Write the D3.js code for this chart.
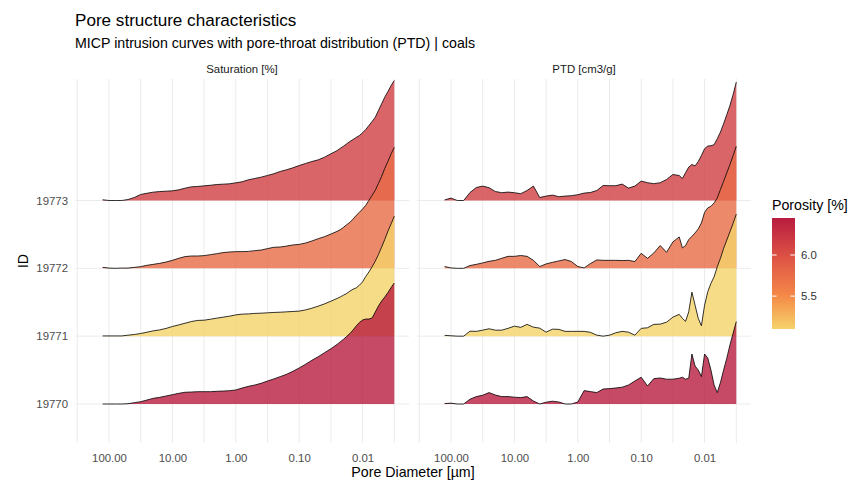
<!DOCTYPE html>
<html>
<head>
<meta charset="utf-8">
<script src="https://cdn.jsdelivr.net/npm/d3@7"></script>
<style>
  body { margin: 0; background: #fff; }
  text { font-family: "Liberation Sans", Arial, sans-serif; }
</style>
</head>
<body>
<div class="chart"></div>
<script>
// ---- data ----
const ids = ["19770", "19771", "19772", "19773"];
const porosity = [6.45, 5.10, 5.76, 6.15];   // %

// pore diameter, µm
const diameter = [125.9, 100, 79.43, 63.10, 50.12, 39.81, 31.62, 25.12, 19.95, 15.85,
  12.59, 10.00, 7.943, 6.310, 5.012, 3.981, 3.162, 2.512, 1.995, 1.585,
  1.259, 1.000, 0.7943, 0.6310, 0.5012, 0.3981, 0.3162, 0.2512, 0.1995, 0.1585,
  0.1259, 0.1000, 0.07943, 0.06310, 0.05012, 0.03981, 0.03162, 0.02512, 0.02239, 0.01995,
  0.01778, 0.01585, 0.01413, 0.01259, 0.01122, 0.01000, 0.008913, 0.007943, 0.007079, 0.006310,
  0.005623, 0.005012, 0.004467, 0.003981, 0.003548, 0.003162];

// saturation [%]
const sat19770 = [0, 0, 0, 0, 0.2, 1.1, 1.9, 3.3, 4.7, 5.5, 6.6, 7.7, 8.8, 9.7, 9.9, 10.2, 10.2, 10.2, 10.5, 10.7,
  11.0, 11.6, 13.2, 14.6, 15.7, 17.1, 19.0, 20.7, 22.6, 24.5, 27.0, 29.8, 32.8, 36.1, 39.1, 42.4, 45.7, 49.3, 51.5, 53.5,
  55.9, 58.3, 61.2, 64.5, 67.4, 69.4, 70.2, 70.2, 71.1, 76.0, 81.0, 85.1, 88.4, 92.1, 96.3, 100];
const sat19771 = [0.2, 0.2, 0.2, 0.2, 0.8, 1.4, 2.2, 3.3, 4.4, 5.2, 6.4, 8.0, 9.3, 10.7, 12.1, 13.0, 13.2, 14.0, 14.9, 15.7,
  16.5, 17.6, 18.2, 18.4, 18.8, 19.0, 19.3, 19.6, 19.8, 20.1, 20.4, 20.7, 21.7, 23.1, 24.8, 26.7, 28.9, 31.2, 32.5, 33.9,
  35.3, 37.2, 38.8, 39.9, 42.1, 44.9, 49.3, 53.1, 57.3, 62.0, 67.5, 73.6, 79.9, 86.8, 92.8, 99.2];
const sat19772 = [0.8, 0.2, 0, 0.2, 0.2, 0.8, 1.4, 2.5, 3.3, 4.1, 5.2, 6.6, 8.3, 9.7, 10.2, 10.2, 10.5, 11.3, 12.1, 13.0,
  13.5, 13.8, 13.8, 14.0, 14.6, 15.1, 16.3, 17.4, 17.6, 18.4, 19.3, 19.8, 20.9, 22.6, 24.5, 26.2, 28.3, 30.6, 32.0, 33.9,
  36.1, 38.0, 40.7, 43.8, 46.3, 49.0, 52.1, 56.2, 60.3, 64.5, 70.2, 76.0, 82.6, 88.4, 94.6, 100];
const sat19773 = [0.6, 0, 0, 0, 0.8, 2.5, 5.0, 6.0, 6.9, 7.4, 7.7, 8.0, 8.8, 10.2, 11.3, 11.6, 12.1, 12.6, 13.2, 13.5,
  13.8, 14.6, 15.5, 17.1, 18.2, 19.3, 20.7, 22.1, 24.0, 25.4, 27.0, 28.9, 30.6, 32.2, 33.6, 35.8, 38.6, 41.3, 43.2, 44.9,
  46.9, 48.8, 50.4, 52.1, 53.7, 56.0, 58.7, 62.0, 65.3, 68.8, 74.4, 79.9, 85.4, 90.1, 95.0, 99.2];

// pore-throat distribution [10^-3 cm3/g]
const ptd19770 = [0.2, 0.4, 0, 0, 2.4, 3.7, 4.4, 5.7, 4.5, 3.7, 3.7, 3.4, 3.2, 3.7, 1.5, 0, 0.9, 1.4, 1.0, 0,
  0, 1.0, 6.7, 6.2, 5.7, 7.5, 7.7, 8.0, 8.4, 9.5, 11.5, 13.4, 9.0, 12.7, 13.0, 12.4, 12.4, 12.9, 13.4, 12.4,
  12.9, 25.0, 19.0, 17.0, 13.7, 25.0, 23.0, 17.0, 9.5, 5.7, 10.7, 17.0, 22.9, 29.5, 35.4, 41.2];
const ptd19771 = [0.4, 0.2, 0, 0, 2.5, 2.4, 3.0, 3.7, 3.0, 3.0, 3.9, 5.0, 4.4, 5.9, 4.5, 4.0, 2.0, 3.5, 3.4, 2.4,
  2.4, 2.4, 2.4, 1.9, 0.5, 0, 0.5, 1.7, 2.4, 2.0, 0.5, 3.9, 4.2, 5.9, 6.0, 7.0, 9.5, 10.9, 8.9, 7.4,
  12.2, 22.0, 15.5, 8.9, 5.2, 15.5, 22.2, 26.4, 29.7, 34.7, 38.9, 43.9, 48.0, 52.2, 56.4, 61.0];
const ptd19772 = [0.9, 0.2, 0, 0, 1.4, 2.0, 2.7, 3.5, 4.0, 5.0, 6.0, 6.0, 6.4, 6.0, 4.0, 0.9, 2.2, 3.0, 3.7, 4.4,
  3.4, 0.9, 0.2, 2.4, 4.2, 4.0, 4.0, 4.0, 3.9, 4.0, 3.4, 7.5, 5.0, 7.7, 11.4, 8.0, 13.2, 15.7, 10.2, 11.4,
  14.4, 16.0, 17.7, 19.7, 22.7, 28.0, 30.2, 31.0, 32.7, 35.2, 39.4, 43.5, 47.7, 51.9, 56.4, 61.0];
const ptd19773 = [0.3, 1.2, 0, 0, 4.0, 6.5, 7.2, 6.4, 4.5, 3.9, 4.2, 3.9, 3.4, 5.0, 7.2, 1.5, 2.2, 2.7, 1.9, 2.2,
  2.4, 2.9, 3.7, 4.0, 5.0, 7.5, 7.4, 7.4, 8.2, 6.2, 7.2, 9.7, 8.9, 8.4, 8.9, 10.5, 13.0, 12.5, 11.0, 13.9,
  16.7, 18.0, 17.3, 19.5, 22.5, 25.9, 27.2, 27.4, 27.9, 30.9, 34.2, 38.4, 42.9, 47.5, 53.0, 59.2];

const majorTicks = [100, 10, 1, 0.1, 0.01];
const gridTicks = [316.2, 100, 31.62, 10, 3.162, 1, 0.3162, 0.1, 0.03162, 0.01, 0.003162];
const porosityTicks = [5.5, 6.0];
const facets = ["Saturation [%]", "PTD [cm3/g]"];

const satSeries = [sat19770, sat19771, sat19772, sat19773];
const ptdSeries = [ptd19770, ptd19771, ptd19772, ptd19773];

// ---- layout ----
const W = 858, H = 483;
const panelTop = 79, panelBottom = 443;
const panels = [{x0: 75, x1: 409}, {x0: 417, x1: 751}];
const smallFont = "11.4px", bigFont = "14.2px";

const svg = d3.select(".chart").append("svg")
  .attr("width", W)
  .attr("height", H);

const y = d3.scalePoint()
  .domain(ids)
  .range([404, 200.5]);

const hScales = [
  d3.scaleLinear().domain([0, 100]).range([0, 121]),
  d3.scaleLinear().domain([0, d3.max(ptdSeries.flat())]).range([0, 122])
];

const color = d3.scaleLinear()
  .domain([5.1, 5.5, 6.0, 6.45])
  .range(["#F5D36A", "#F58A48", "#DC4F45", "#B81C3F"]);

// titles
svg.append("text")
  .attr("x", 75).attr("y", 26)
  .style("font-size", "17.1px").attr("fill", "#000")
  .text("Pore structure characteristics");
svg.append("text")
  .attr("x", 75).attr("y", 48)
  .style("font-size", bigFont).attr("fill", "#000")
  .text("MICP intrusion curves with pore-throat distribution (PTD) | coals");

panels.forEach((p, pi) => {
  const x = d3.scaleLog()
    .domain([Math.pow(10, 2.536), Math.pow(10, -2.732)])
    .range([p.x0, p.x1]);
  const g = svg.append("g");

  // grid
  g.selectAll(".vgrid")
    .data(gridTicks)
    .enter().append("line")
    .attr("x1", d => x(d)).attr("x2", d => x(d))
    .attr("y1", panelTop).attr("y2", panelBottom)
    .attr("stroke", "#EBEBEB").attr("stroke-width", 1);
  g.selectAll(".hgrid")
    .data(ids)
    .enter().append("line")
    .attr("x1", p.x0).attr("x2", p.x1)
    .attr("y1", d => y(d)).attr("y2", d => y(d))
    .attr("stroke", "#EBEBEB").attr("stroke-width", 1);

  // strip label
  g.append("text")
    .attr("x", (p.x0 + p.x1) / 2).attr("y", 72.5)
    .attr("text-anchor", "middle")
    .style("font-size", smallFont).attr("fill", "#1A1A1A")
    .text(facets[pi]);

  // ridges, top row first so lower rows sit on top
  const series = pi === 0 ? satSeries : ptdSeries;
  const hs = hScales[pi];
  for (let k = ids.length - 1; k >= 0; k--) {
    const base = y(ids[k]);
    const pts = diameter.map((d, i) => ({d: d, v: series[k][i]}));
    const area = d3.area()
      .x(d => x(d.d))
      .y0(base)
      .y1(d => base - hs(d.v));
    const line = d3.line()
      .x(d => x(d.d))
      .y(d => base - hs(d.v));
    g.append("path")
      .datum(pts)
      .attr("d", area)
      .attr("fill", color(porosity[k]))
      .attr("fill-opacity", 0.8);
    g.append("path")
      .datum(pts)
      .attr("d", line)
      .attr("fill", "none")
      .attr("stroke", "#000")
      .attr("stroke-width", 0.8);
  }

  // x axis
  const xAxis = d3.axisBottom(x)
    .tickValues(majorTicks)
    .tickFormat(d3.format(".2f"))
    .tickSize(0)
    .tickPadding(11);
  const ax = g.append("g")
    .attr("transform", "translate(0," + panelBottom + ")")
    .call(xAxis);
  ax.select(".domain").remove();
  ax.selectAll("text")
    .style("font-size", smallFont)
    .style("font-family", "'Liberation Sans', Arial, sans-serif")
    .attr("fill", "#4D4D4D");
});

// y axis
const yAxis = d3.axisLeft(y).tickSize(0).tickPadding(7);
const ay = svg.append("g")
  .attr("transform", "translate(75,0)")
  .call(yAxis);
ay.select(".domain").remove();
ay.selectAll("text")
  .style("font-size", smallFont)
  .style("font-family", "'Liberation Sans', Arial, sans-serif")
  .attr("fill", "#4D4D4D");

// axis titles
svg.append("text")
  .attr("x", 413).attr("y", 477)
  .attr("text-anchor", "middle")
  .style("font-size", bigFont).attr("fill", "#000")
  .text("Pore Diameter [µm]");
svg.append("text")
  .attr("transform", "translate(28," + ((panelTop + panelBottom) / 2) + ") rotate(-90)")
  .attr("text-anchor", "middle")
  .style("font-size", bigFont).attr("fill", "#000")
  .text("ID");

// legend
const lx = 772, lw = 23, ly0 = 218, ly1 = 329;
const ls = d3.scaleLinear().domain([5.1, 6.45]).range([ly1, ly0]);
const defs = svg.append("defs");
const grad = defs.append("linearGradient")
  .attr("id", "porgrad")
  .attr("x1", 0).attr("y1", 1).attr("x2", 0).attr("y2", 0);
d3.range(0, 1.0001, 0.1).forEach(t => {
  grad.append("stop")
    .attr("offset", t)
    .attr("stop-color", color(5.1 + t * (6.45 - 5.1)));
});
svg.append("text")
  .attr("x", lx).attr("y", 209.5)
  .style("font-size", bigFont).attr("fill", "#000")
  .text("Porosity [%]");
svg.append("rect")
  .attr("x", lx).attr("y", ly0)
  .attr("width", lw).attr("height", ly1 - ly0)
  .attr("fill", "url(#porgrad)");
porosityTicks.forEach(t => {
  svg.append("line")
    .attr("x1", lx).attr("x2", lx + 4.6)
    .attr("y1", ls(t)).attr("y2", ls(t))
    .attr("stroke", "#fff").attr("stroke-width", 1);
  svg.append("line")
    .attr("x1", lx + lw - 4.6).attr("x2", lx + lw)
    .attr("y1", ls(t)).attr("y2", ls(t))
    .attr("stroke", "#fff").attr("stroke-width", 1);
  svg.append("text")
    .attr("x", lx + lw + 6).attr("y", ls(t))
    .attr("dy", "0.35em")
    .style("font-size", smallFont).attr("fill", "#333")
    .text(d3.format(".1f")(t));
});
</script>
</body>
</html>
